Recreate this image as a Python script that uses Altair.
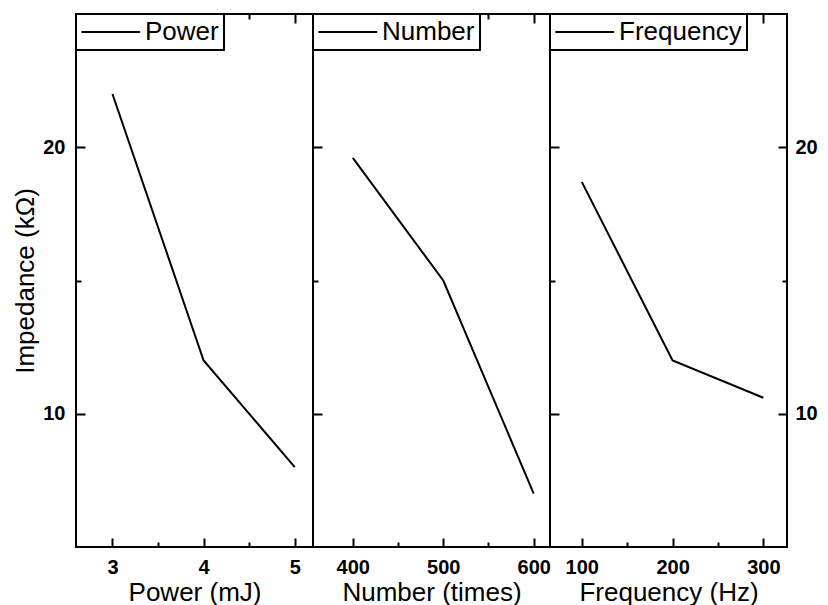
import altair as alt
import pandas as pd

# ---- data ----
power_x = [3, 4, 5]
power_y = [22.0, 12.0, 8.0]
number_x = [400, 500, 600]
number_y = [19.6, 15.0, 7.0]
freq_x = [100, 200, 300]
freq_y = [18.7, 12.0, 10.6]

series_names = ["Power", "Number", "Frequency"]
x_titles = ["Power (mJ)", "Number (times)", "Frequency (Hz)"]
x_domains = [[2.6, 5.2], [356, 618], [65, 326]]
x_major = [[3, 4, 5], [400, 500, 600], [100, 200, 300]]
x_minor = [[3.5, 4.5], [450, 550], [150, 250]]
y_domain = [5, 25]
y_major = [10, 20]
y_minor = [15]
y_title = "Impedance (kΩ)"

xs_all = [power_x, number_x, freq_x]
ys_all = [power_y, number_y, freq_y]

FONT = "Liberation Sans"
PANEL_W = 237
PANEL_H = 533
MAJ = 9
MIN = 5


def ax(orient, values, size, labels=False, title=None, pad=11):
    kw = dict(orient=orient, values=values, offset=-size, tickSize=size,
              labels=labels, title=title, domain=False, grid=False,
              tickColor="black", tickWidth=2)
    if labels:
        kw.update(labelPadding=pad, labelFont=FONT, labelFontSize=20,
                  labelFontWeight="bold", labelColor="black", labelFlush=False)
    if title is not None:
        kw.update(titleFont=FONT, titleFontSize=26, titleFontWeight="normal",
                  titleColor="black")
    return alt.Axis(**kw)


def panel(i):
    df = pd.DataFrame({"x": xs_all[i], "y": ys_all[i],
                       "series": [series_names[i]] * len(xs_all[i])})
    xs = alt.Scale(domain=x_domains[i], nice=False, zero=False)
    ys = alt.Scale(domain=y_domain, nice=False, zero=False)
    base = alt.Chart(df)
    first = i == 0
    last = i == 2

    xb = ax("bottom", x_major[i], MAJ, labels=True, title=x_titles[i], pad=10)
    xb.titlePadding = 2
    yl = ax("left", y_major, MAJ, labels=first,
            title=y_title if first else None, pad=11)
    if first:
        yl.titlePadding = 4

    l1 = base.mark_line(strokeWidth=2).encode(
        x=alt.X("x:Q", scale=xs, axis=xb),
        y=alt.Y("y:Q", scale=ys, axis=yl),
        color=alt.Color("series:N", scale=alt.Scale(range=["black"]),
                        legend=alt.Legend(
                            title=None, orient="top-left", offset=0, padding=5,
                            strokeColor="black", fillColor="white",
                            symbolType="M-1.05,0H3.85", symbolSize=576,
                            symbolStrokeWidth=2, symbolStrokeColor="black",
                            labelFont=FONT, labelFontSize=26,
                            labelColor="black", labelOffset=38)),
    )
    l2 = base.mark_line(opacity=0).encode(
        x=alt.X("x:Q", scale=xs, axis=ax("bottom", x_minor[i], MIN)),
        y=alt.Y("y:Q", scale=ys, axis=ax("left", y_minor, MIN)),
    )
    l3 = base.mark_line(opacity=0).encode(
        x=alt.X("x:Q", scale=xs, axis=ax("top", x_major[i], MAJ)),
        y=alt.Y("y:Q", scale=ys,
                axis=ax("right", y_major, MAJ, labels=True, pad=8) if last else None),
    )
    l4 = base.mark_line(opacity=0).encode(
        x=alt.X("x:Q", scale=xs, axis=ax("top", x_minor[i], MIN)),
        y=alt.Y("y:Q", scale=ys,
                axis=ax("right", y_minor, MIN) if last else None),
    )
    return alt.layer(l1, l2, l3, l4).resolve_axis(
        x="independent", y="independent"
    ).properties(width=PANEL_W, height=PANEL_H)


chart = alt.hconcat(panel(0), panel(1), panel(2), spacing=0, bounds="flush").resolve_scale(
    color="independent"
).resolve_legend(color="independent").properties(
    padding={"left": 3, "top": 4, "right": 0, "bottom": 0}
).configure(
    font=FONT
).configure_view(
    stroke="black", strokeWidth=2
).configure_legend(
    strokeWidth=2
)

chart.save("out.html", embed_options={"renderer": "svg", "actions": False})
